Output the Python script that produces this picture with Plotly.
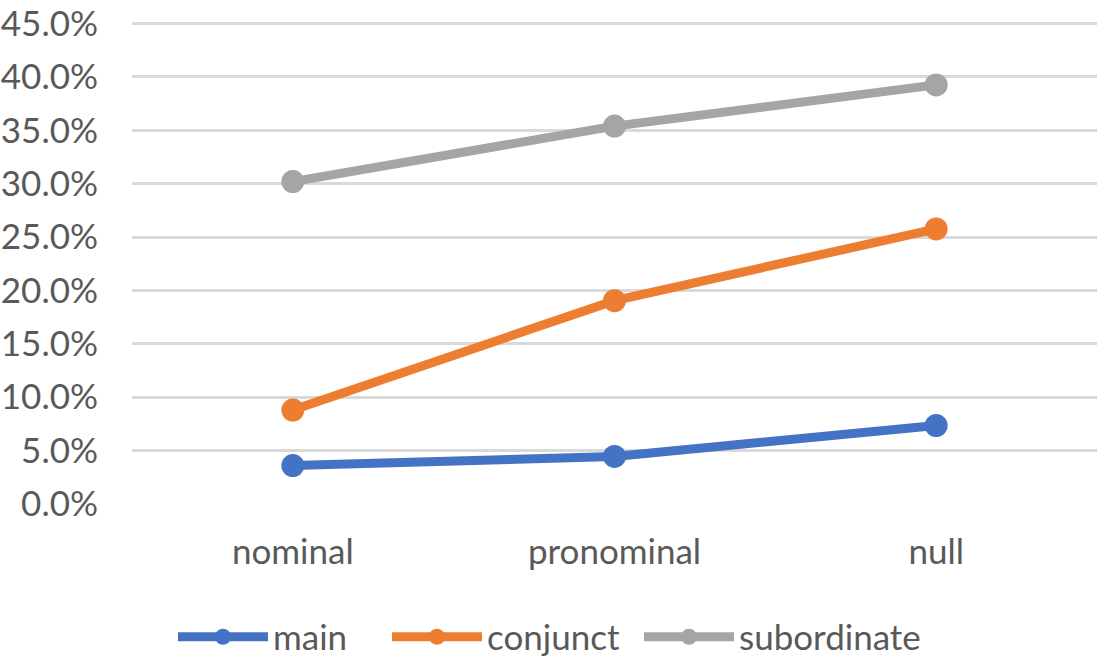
import plotly.graph_objects as go

categories = ["nominal", "pronominal", "null"]
main = [0.036, 0.0445, 0.0735]
conjunct = [0.088, 0.1905, 0.2577]
subordinate = [0.302, 0.354, 0.3926]
y_ticks = [0.0, 0.05, 0.10, 0.15, 0.20, 0.25, 0.30, 0.35, 0.40, 0.45]
y_labels = ["0.0%", "5.0%", "10.0%", "15.0%", "20.0%", "25.0%", "30.0%", "35.0%", "40.0%", "45.0%"]

series = [
    ("main", main, "#4472C4", "legend", 181),
    ("conjunct", conjunct, "#ED7D31", "legend2", 395),
    ("subordinate", subordinate, "#A5A5A5", "legend3", 647),
]

FONT = "Lato"
TXT = "#595959"
FS = 35

fig = go.Figure()
legends = {}
for name, vals, color, leg, lx in series:
    fig.add_trace(go.Scatter(
        x=categories, y=vals, name=name, mode="lines+markers",
        line=dict(color=color, width=9),
        marker=dict(color=color, size=23),
        legend=leg,
    ))
    legends[leg] = dict(orientation="h", xref="container", x=(lx - 8) / 1100,
                        xanchor="left", yref="container",
                        y=(660 - 637) / 660, yanchor="middle",
                        font=dict(family=FONT, size=FS, color=TXT),
                        itemwidth=90, bgcolor="rgba(0,0,0,0)")

fig.update_layout(
    width=1100, height=660,
    margin=dict(l=132, r=3, t=22, b=156, autoexpand=False),
    paper_bgcolor="white", plot_bgcolor="white",
    font=dict(family=FONT, size=FS, color=TXT),
    showlegend=True,
    xaxis=dict(type="category", range=[-0.5, 2.5], showgrid=False,
               showline=False, zeroline=False, ticks="",
               ticklabelstandoff=24,
               tickfont=dict(family=FONT, size=FS, color=TXT)),
    yaxis=dict(range=[0, 0.4515], tickvals=y_ticks, ticktext=y_labels,
               showgrid=True, gridcolor="#D9D9D9", gridwidth=3,
               zeroline=False, showline=False, ticks="",
               ticklabelstandoff=33, ticklabeloverflow="allow",
               tickfont=dict(family=FONT, size=FS, color=TXT)),
    **legends,
)

fig.write_html("out.html", config={"displayModeBar": False},
               post_script="document.body.style.margin='0';document.body.style.overflow='hidden';")
